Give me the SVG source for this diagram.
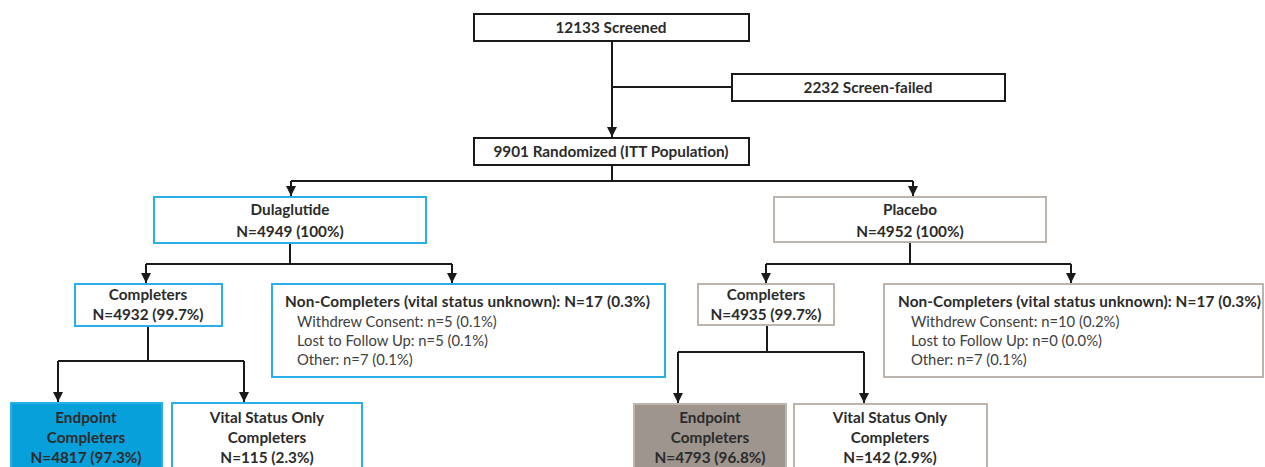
<svg xmlns="http://www.w3.org/2000/svg" width="1265" height="467" viewBox="0 0 1265 467">
<defs>
<marker id="ah" viewBox="0 0 10 10" refX="10" refY="5" markerWidth="5" markerHeight="5" orient="auto" markerUnits="strokeWidth">
<path d="M0,0 L10,5 L0,10 z" fill="#1a1a1a"/>
</marker>
<style>
.box{fill:#fff;stroke:#1a1a1a;stroke-width:2}
.blue{fill:#fff;stroke:#2aaee6;stroke-width:2}
.grey{fill:#fff;stroke:#bdb5ad;stroke-width:2}
.bluefill{fill:#08a0da;stroke:#2aaee6;stroke-width:2}
.greyfill{fill:#9e958e;stroke:#bdb5ad;stroke-width:2}
text{font-family:Lato,"Liberation Sans",sans-serif;fill:#2b2b2b}
.b{font-weight:bold;font-size:15.3px}
.c{text-anchor:middle}
.r{font-size:14.8px;fill:#404040}
.ln{fill:none;stroke:#1a1a1a;stroke-width:2}
.ar{fill:none;stroke:#1a1a1a;stroke-width:2;marker-end:url(#ah)}
</style>
</defs>
<g id="connectors">
<path class="ar" d="M612,41 V137"/>
<path class="ln" d="M612,87 H732"/>
<path class="ln" d="M612,165 V181 M291,181 H913"/>
<path class="ar" d="M291,181 V196"/>
<path class="ar" d="M913,181 V196"/>
<path class="ln" d="M290,243 V264 M146,264 H452"/>
<path class="ar" d="M146,264 V283"/>
<path class="ar" d="M452,264 V283"/>
<path class="ln" d="M910,242 V264 M766,264 H1071"/>
<path class="ar" d="M766,264 V283"/>
<path class="ar" d="M1071,264 V283"/>
<path class="ln" d="M148,326 V361 M58,361 H244"/>
<path class="ar" d="M58,361 V402"/>
<path class="ar" d="M244,361 V402"/>
<path class="ln" d="M767,325 V352 M678,352 H864"/>
<path class="ar" d="M678,352 V403"/>
<path class="ar" d="M864,352 V403"/>
</g>
<g id="screened">
<rect class="box" x="474" y="14" width="275" height="27"/>
<text class="b c" x="611" y="33">12133 Screened</text>
</g>
<g id="screenfailed">
<rect class="box" x="732" y="74" width="273" height="27"/>
<text class="b c" x="868" y="93">2232 Screen-failed</text>
</g>
<g id="randomized">
<rect class="box" x="474" y="138" width="275" height="27"/>
<text class="b c" x="611" y="157">9901 Randomized (ITT Population)</text>
</g>
<g id="dulaglutide">
<rect class="blue" x="154" y="197" width="272" height="46"/>
<text class="b c" x="290" y="215">Dulaglutide</text>
<text class="b c" x="290" y="237">N=4949 (100%)</text>
</g>
<g id="placebo">
<rect class="grey" x="774" y="197" width="272" height="45"/>
<text class="b c" x="910" y="215">Placebo</text>
<text class="b c" x="910" y="237">N=4952 (100%)</text>
</g>
<g id="completers-d">
<rect class="blue" x="75" y="284" width="147" height="42"/>
<text class="b c" x="148" y="300">Completers</text>
<text class="b c" x="148" y="320">N=4932 (99.7%)</text>
</g>
<g id="noncompleters-d">
<rect class="blue" x="272" y="284" width="393" height="93"/>
<text class="b" x="285" y="307" textLength="365" lengthAdjust="spacing">Non-Completers (vital status unknown):  N=17 (0.3%)</text>
<text class="r" x="297" y="327">Withdrew Consent: n=5 (0.1%)</text>
<text class="r" x="297" y="346">Lost to Follow Up: n=5 (0.1%)</text>
<text class="r" x="297" y="365">Other: n=7 (0.1%)</text>
</g>
<g id="completers-p">
<rect class="grey" x="698" y="284" width="136" height="41"/>
<text class="b c" x="766" y="300">Completers</text>
<text class="b c" x="766" y="320">N=4935 (99.7%)</text>
</g>
<g id="noncompleters-p">
<rect class="grey" x="884" y="284" width="379" height="93"/>
<text class="b" x="898" y="307" textLength="363" lengthAdjust="spacing">Non-Completers (vital status unknown):  N=17 (0.3%)</text>
<text class="r" x="911" y="327">Withdrew Consent: n=10 (0.2%)</text>
<text class="r" x="911" y="346">Lost to Follow Up: n=0 (0.0%)</text>
<text class="r" x="911" y="365">Other: n=7 (0.1%)</text>
</g>
<g id="endpoint-d">
<rect class="bluefill" x="11" y="403" width="151" height="80"/>
<text class="b c" x="86" y="423">Endpoint</text>
<text class="b c" x="86" y="443">Completers</text>
<text class="b c" x="86" y="463">N=4817 (97.3%)</text>
</g>
<g id="vital-d">
<rect class="blue" x="172" y="403" width="190" height="80"/>
<text class="b c" x="267" y="423">Vital Status Only</text>
<text class="b c" x="267" y="443">Completers</text>
<text class="b c" x="267" y="463">N=115 (2.3%)</text>
</g>
<g id="endpoint-p">
<rect class="greyfill" x="634" y="404" width="152" height="80"/>
<text class="b c" x="710" y="423">Endpoint</text>
<text class="b c" x="710" y="443">Completers</text>
<text class="b c" x="710" y="463">N=4793 (96.8%)</text>
</g>
<g id="vital-p">
<rect class="grey" x="794" y="404" width="193" height="80"/>
<text class="b c" x="890" y="423">Vital Status Only</text>
<text class="b c" x="890" y="443">Completers</text>
<text class="b c" x="890" y="463">N=142 (2.9%)</text>
</g>
</svg>
